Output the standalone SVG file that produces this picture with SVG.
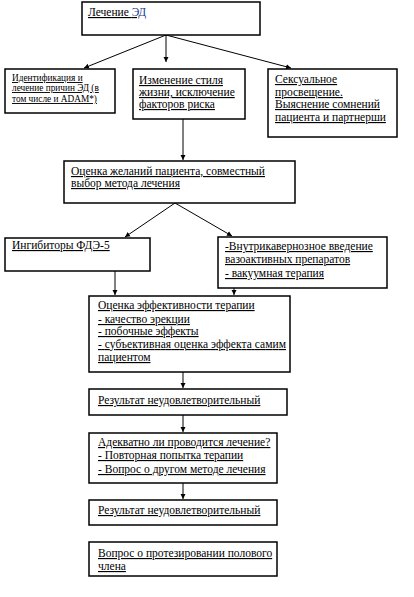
<svg xmlns="http://www.w3.org/2000/svg" width="414" height="597" viewBox="0 0 414 597">
<style>
.box{fill:#fff;stroke:#000;stroke-width:1.5}
.t{font-family:"Liberation Serif","Times New Roman",serif;font-size:11.5px;fill:#000;text-decoration:underline}
.s{font-family:"Liberation Serif","Times New Roman",serif;font-size:9.3px;fill:#000;text-decoration:underline}
.c{stroke:#000;stroke-width:1;fill:none;marker-end:url(#ah)}
</style>
<defs>
<marker id="ah" markerWidth="6" markerHeight="6" refX="5" refY="3" orient="auto" markerUnits="userSpaceOnUse">
<path d="M0,0.5 L5,3 L0,5.5 Z" fill="#000"/>
</marker>
</defs>
<rect width="414" height="597" fill="#fff"/>
<g id="connectors">
<line class="c" x1="166" y1="35" x2="84" y2="68"/>
<line class="c" x1="166" y1="35" x2="166" y2="62"/>
<line class="c" x1="166" y1="35" x2="291" y2="68"/>
<line class="c" x1="183" y1="119" x2="183" y2="160"/>
<line class="c" x1="175" y1="203" x2="125" y2="237"/>
<line class="c" x1="175" y1="203" x2="232" y2="236"/>
<line class="c" x1="115" y1="271" x2="115" y2="295"/>
<line class="c" x1="234" y1="288" x2="234" y2="295"/>
<line class="c" x1="183" y1="372" x2="183" y2="388"/>
<line class="c" x1="183" y1="415" x2="183" y2="432"/>
<line class="c" x1="183" y1="483" x2="183" y2="499"/>
</g>
<g id="n1">
<rect class="box" x="82" y="2" width="178" height="33"/>
<text class="t" x="88" y="16">Лечение <tspan fill="#1a3d8f">ЭД</tspan></text>
</g>
<g id="n2">
<rect class="box" x="5" y="69" width="110" height="44"/>
<text class="s" x="12" y="81">Идентификация и</text>
<text class="s" x="12" y="91">лечение причин ЭД (в</text>
<text class="s" x="12" y="102">том числе и ADAM*)</text>
</g>
<g id="n3">
<rect class="box" x="133" y="69" width="112" height="50"/>
<text class="t" x="139" y="84">Изменение стиля</text>
<text class="t" x="139" y="96">жизни, исключение</text>
<text class="t" x="139" y="108">факторов риска</text>
</g>
<g id="n4">
<rect class="box" x="268" y="69" width="129" height="68"/>
<text class="t" x="275" y="83">Сексуальное</text>
<text class="t" x="275" y="96">просвещение.</text>
<text class="t" x="275" y="108">Выяснение сомнений</text>
<text class="t" x="275" y="121">пациента и партнерши</text>
</g>
<g id="n5">
<rect class="box" x="64" y="161" width="231" height="42"/>
<text class="t" x="71" y="175">Оценка желаний пациента, совместный</text>
<text class="t" x="71" y="187">выбор метода лечения</text>
</g>
<g id="n6">
<rect class="box" x="5" y="238" width="145" height="33"/>
<text class="t" x="12" y="249">Ингибиторы ФДЭ-5</text>
</g>
<g id="n7">
<rect class="box" x="218" y="237" width="169" height="51"/>
<text class="t" x="225" y="250"> -Внутрикавернозное введение</text>
<text class="t" x="225" y="263">вазоактивных препаратов</text>
<text class="t" x="225" y="277">- вакуумная терапия</text>
</g>
<g id="n8">
<rect class="box" x="89" y="296" width="201" height="76"/>
<text class="t" x="98" y="309">Оценка эффективности терапии</text>
<text class="t" x="98" y="323">- качество эрекции</text>
<text class="t" x="98" y="335">- побочные эффекты</text>
<text class="t" x="98" y="348" textLength="188" lengthAdjust="spacing">- субъективная оценка эффекта самим</text>
<text class="t" x="98" y="361">пациентом</text>
</g>
<g id="n9">
<rect class="box" x="89" y="389" width="198" height="26"/>
<text class="t" x="98" y="404">Результат неудовлетворительный</text>
</g>
<g id="n10">
<rect class="box" x="89" y="433" width="188" height="50"/>
<text class="t" x="98" y="446">Адекватно ли проводится лечение?</text>
<text class="t" x="98" y="459">- Повторная попытка терапии</text>
<text class="t" x="98" y="473">- Вопрос о другом методе лечения</text>
</g>
<g id="n11">
<rect class="box" x="89" y="500" width="188" height="25"/>
<text class="t" x="98" y="514">Результат неудовлетворительный</text>
</g>
<g id="n12">
<rect class="box" x="89" y="542" width="188" height="34"/>
<text class="t" x="98" y="557">Вопрос о протезировании полового</text>
<text class="t" x="98" y="570">члена</text>
</g>
</svg>
